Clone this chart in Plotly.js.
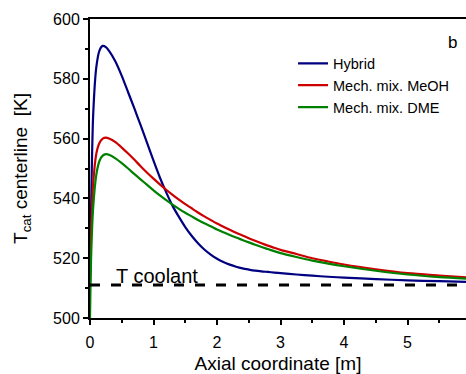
<!DOCTYPE html>
<html>
<head>
<meta charset="utf-8">
<script src="https://cdn.plot.ly/plotly-3.0.1.min.js"></script>
<style>html,body{margin:0;padding:0;background:#fff;}#chart{width:466px;height:374px;}</style>
</head>
<body>
<div id="chart"></div>
<script>
const axialPos = [0, 0.02, 0.05, 0.1, 0.15, 0.2, 0.25, 0.3, 0.4, 0.5, 0.6, 0.7, 0.8, 0.9, 1.0, 1.1, 1.2, 1.3, 1.4, 1.5, 1.6, 1.7, 1.8, 1.9, 2.0, 2.1, 2.2, 2.3, 2.4, 2.5, 2.6, 2.7, 2.8, 2.9, 3.0, 3.25, 3.5, 3.75, 4.0, 4.5, 5.0, 5.5, 5.92];
const hybrid = [512, 540, 568, 584, 589.5, 591, 590.6, 589.3, 585.8, 581.0, 575.5, 570.0, 564.3, 558.5, 552.6, 547.0, 542.0, 537.5, 533.8, 530.4, 527.5, 525.0, 522.9, 521.2, 519.8, 518.7, 517.85, 517.15, 516.6, 516.2, 515.85, 515.6, 515.4, 515.2, 515.0, 514.55, 514.15, 513.8, 513.5, 513.0, 512.6, 512.3, 512.1];
const mechMeOH = [512, 530, 545, 555, 558.6, 560.0, 560.3, 560.0, 558.8, 557.0, 555.0, 552.9, 550.7, 548.6, 546.6, 544.7, 542.9, 541.2, 539.6, 538.1, 536.7, 535.3, 534.0, 532.8, 531.6, 530.55, 529.5, 528.5, 527.6, 526.7, 525.85, 525.0, 524.2, 523.5, 522.8, 521.4, 520.0, 518.9, 517.9, 516.3, 515.0, 514.2, 513.6];
const mechDME = [500, 522, 537, 548, 552.6, 554.3, 554.8, 554.6, 553.4, 551.8, 550.0, 548.1, 546.3, 544.5, 542.7, 541.0, 539.4, 537.9, 536.5, 535.2, 534.0, 532.8, 531.7, 530.7, 529.6, 528.65, 527.75, 526.9, 526.1, 525.3, 524.5, 523.75, 523.05, 522.35, 521.7, 520.4, 519.2, 518.2, 517.3, 515.8, 514.55, 513.7, 513.2];
const coolantX = [0, 5.84];
const coolantT = [511, 511];
const seriesNames = ["Hybrid", "Mech. mix. MeOH", "Mech. mix. DME"];
const seriesColors = ["#000080", "#cc0000", "#008000"];
const xTicks = [0, 1, 2, 3, 4, 5];
const yTicks = [500, 520, 540, 560, 580, 600];

const font = "Arial, 'Liberation Sans', sans-serif";
const traces = [hybrid, mechMeOH, mechDME].map((ys, i) => ({
  x: axialPos, y: ys, type: "scatter", mode: "lines", name: seriesNames[i],
  line: {color: seriesColors[i], width: 2.2, shape: "spline", smoothing: 0.8}
}));
traces.push({
  x: coolantX, y: coolantT, type: "scatter", mode: "lines", showlegend: false,
  line: {color: "#000", width: 3, dash: "10px,11px"}, hoverinfo: "skip"
});

const layout = {
  width: 466, height: 374,
  margin: {l: 90, r: 0, t: 19, b: 56},
  paper_bgcolor: "#fff", plot_bgcolor: "#fff",
  font: {family: font, color: "#000"},
  showlegend: true,
  legend: {x: 0.54, y: 0.905, xanchor: "left", yanchor: "top", bgcolor: "rgba(0,0,0,0)",
           font: {size: 14.5, family: font}, tracegroupgap: 0, itemwidth: 30},
  xaxis: {
    range: [0, 5.92], tickvals: xTicks, ticktext: xTicks.map(String),
    showgrid: false, zeroline: false, showline: true, linecolor: "#000", linewidth: 2, mirror: true,
    ticks: "outside", ticklen: 5, tickwidth: 2, tickcolor: "#000", ticklabelstandoff: 4,
    minor: {dtick: 0.5, tick0: 0, ticks: "outside", ticklen: 3, tickwidth: 2, tickcolor: "#000"},
    tickfont: {size: 16, family: font},
    title: {text: "Axial coordinate [m]", font: {size: 19, family: font}, standoff: 14}
  },
  yaxis: {
    range: [500, 600], tickvals: yTicks, ticktext: yTicks.map(String),
    showgrid: false, zeroline: false, showline: true, linecolor: "#000", linewidth: 2,
    ticks: "outside", ticklen: 5, tickwidth: 2, tickcolor: "#000",
    minor: {dtick: 10, tick0: 500, ticks: "outside", ticklen: 3, tickwidth: 2, tickcolor: "#000"},
    tickfont: {size: 16, family: font},
    title: {text: "T<sub>cat</sub> centerline  [K]", font: {size: 19, family: font}, standoff: 20}
  },
  annotations: [
    {x: 1.05, y: 514, xref: "x", yref: "y", text: "T coolant", showarrow: false,
     font: {size: 20, family: font, color: "#000"}, xanchor: "center", yanchor: "middle"},
    {x: 0.963, y: 0.92, xref: "paper", yref: "paper", text: "b", showarrow: false,
     font: {size: 17, family: font, color: "#000"}, xanchor: "center", yanchor: "middle"}
  ]
};
Plotly.newPlot("chart", traces, layout, {staticPlot: true, displayModeBar: false});
</script>
</body>
</html>
